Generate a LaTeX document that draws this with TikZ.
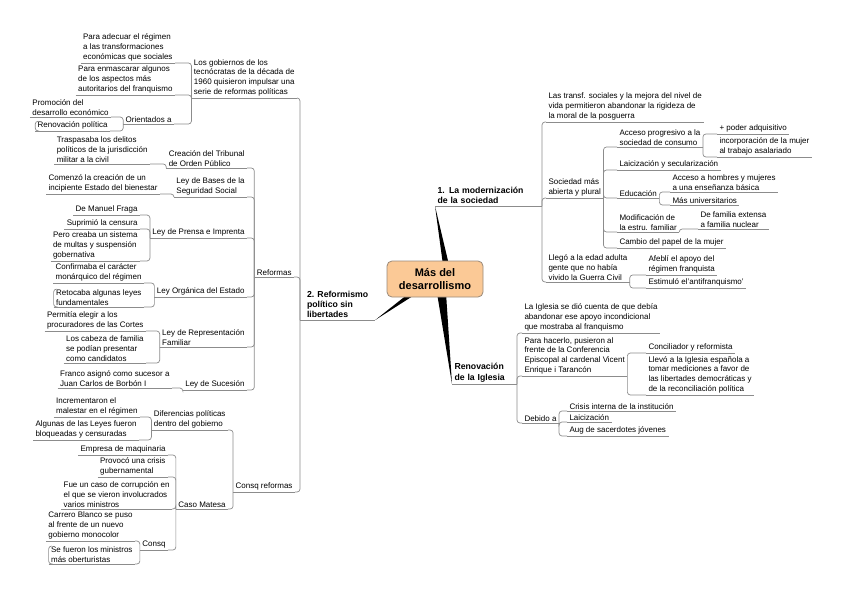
\documentclass[tikz,border=0pt]{standalone}
\usepackage{fontspec}
\setmainfont{Liberation Sans}
\usetikzlibrary{calc}
\pgfdeclarelayer{bg}
\pgfsetlayers{bg,main}
\definecolor{lineg}{HTML}{8C8C8C}
\definecolor{peach}{HTML}{FBC996}
\definecolor{peachb}{HTML}{9A8A7A}
\begin{document}
\begin{tikzpicture}[x=1pt,y=-1pt,
  every node/.style={inner sep=0pt, outer sep=0pt},
  tp/.style={align=left, inner xsep=2.5pt, inner ysep=1.6pt, font=\fontsize{8}{9.9}\selectfont},
  tl/.style={tp, anchor=south east},
  tr/.style={tp, anchor=south west},
  mainl/.style={align=left, inner xsep=2.5pt, inner ysep=2pt, font=\fontsize{8.7}{10.4}\selectfont\bfseries},
  cenbox/.style={draw=peachb, line width=0.8pt, fill=peach, rounded corners=5pt, minimum width=96pt, minimum height=36pt, align=center, font=\fontsize{11}{13}\selectfont\bfseries},
  uline/.style={draw=lineg, line width=0.7pt},
  conn/.style={draw=lineg, line width=0.7pt, rounded corners=3pt},
  branch/.style={fill=black},
]
\useasboundingbox (0,0) rectangle (848,599);

% central
\node[cenbox] (cen) at (435,279) {Más del\\desarrollismo};

% main topics
\node[mainl, anchor=south west, inner xsep=7pt] (ref) at (300,320) {2. Reformismo\\político sin\\libertades};
\node[mainl, anchor=south west, text width=102pt] (m1) at (435,206) {1. La modernización\\de la sociedad};
\node[mainl, anchor=south west, text width=60pt] (m2) at (452,384) {Renovación\\de la Iglesia};

% left side
\node[tl] (lg) at (297,98) {Los gobiernos de los\\tecnócratas de la década de\\1960 quisieron impulsar una\\serie de reformas políticas};
\node[tl] (pa) at (175,63) {Para adecuar el régimen\\a las transformaciones\\económicas que sociales};
\node[tl] (pe) at (175,95) {Para enmascarar algunos\\de los aspectos más\\autoritarios del franquismo};
\node[tl] (oa) at (174,124) {Orientados a};
\node[tl] (pd) at (111,117) {Promoción del\\desarrollo económico};
\node[tl] (rp) at (110,131) {Renovación política};
\node[tl] (refo) at (294,277) {Reformas};
\node[tl] (ctop) at (247,168) {Creación del Tribunal\\de Orden Público};
\node[tl] (tra) at (150,164) {Traspasaba los delitos\\políticos de la jurisdicción\\militar a la civil};
\node[tl] (lbs) at (247,197) {Ley de Bases de la\\Seguridad Social};
\node[tl] (com) at (160,194) {Comenzó la creación de un\\incipiente Estado del bienestar};
\node[tl] (lpi) at (247,238) {Ley de Prensa e Imprenta};
\node[tl] (dmf) at (140,215) {De Manuel Fraga};
\node[tl] (sup) at (140,229) {Suprimió la censura};
\node[tl] (pcr) at (140,261) {Pero creaba un sistema\\de multas y suspensión\\gobernativa};
\node[tl] (loe) at (247,297) {Ley Orgánica del Estado};
\node[tl] (con) at (144,283) {Confirmaba el carácter\\monárquico del régimen};
\node[tl] (ret) at (144,307) {Retocaba algunas leyes\\fundamentales};
\node[tl] (lrf) at (247,347) {Ley de Representación\\Familiar};
\node[tl] (per) at (146,331) {Permitía elegir a los\\procuradores de las Cortes};
\node[tl] (lcf) at (146,363) {Los cabeza de familia\\se podían presentar\\como candidatos};
\node[tl] (lsu) at (247,390) {Ley de Sucesión};
\node[tl] (fra) at (172,388) {Franco asignó como sucesor a\\Juan Carlos de Borbón I};
\node[tl] (cr) at (295,492) {Consq reformas};
\node[tl] (dpg) at (228,430) {Diferencias políticas\\dentro del gobierno};
\node[tl] (inc) at (140,417) {Incrementaron el\\malestar en el régimen};
\node[tl] (alg) at (139,440) {Algunas de las Leyes fueron\\bloqueadas y censuradas};
\node[tl] (cm) at (228,509) {Caso Matesa};
\node[tl] (emp) at (168,455) {Empresa de maquinaria};
\node[tl] (pro) at (168,477) {Provocó una crisis\\gubernamental};
\node[tl] (fue) at (172,509) {Fue un caso de corrupción en\\el que se vieron involucrados\\varios ministros};
\node[tl] (cq) at (168,550) {Consq};
\node[tl] (car) at (135,541) {Carrero Blanco se puso\\al frente de un nuevo\\gobierno monocolor};
\node[tl] (sef) at (135,564) {Se fueron los ministros\\más oberturistas};

% right side
\node[tr] (lts) at (546,122) {Las transf. sociales y la mejora del nivel de\\vida permitieron abandonar la rigideza de\\la moral de la posguerra};
\node[tr] (soc) at (546,198) {Sociedad más\\abierta y plural};
\node[tr] (apr) at (617,147) {Acceso progresivo a la\\sociedad de consumo};
\node[tr] (pod) at (717,134) {+ poder adquisitivo};
\node[tr] (inm) at (717,157) {incorporación de la mujer\\al trabajo asalariado};
\node[tr] (lai) at (617,170) {Laicización y secularización};
\node[tr] (edu) at (617,198) {Educación};
\node[tr] (aho) at (670,192) {Acceso a hombres y mujeres\\a una enseñanza básica};
\node[tr] (mun) at (670,205) {Más universitarios};
\node[tr] (mod) at (617,232) {Modificación de\\la estru. familiar};
\node[tr] (dfe) at (698,229) {De familia extensa\\a familia nuclear};
\node[tr] (cam) at (617,248) {Cambio del papel de la mujer};
\node[tr] (lle) at (546,282) {Llegó a la edad adulta\\gente que no había\\vivido la Guerra Civil};
\node[tr] (afe) at (646,275) {Afeblí el apoyo del\\régimen franquista};
\node[tr] (est) at (646,288) {Estimuló el'antifranquismo'};
\node[tr] (lig) at (522,333) {La Iglesia se dió cuenta de que debía\\abandonar ese apoyo incondicional\\que mostraba al franquismo};
\node[tr] (phc) at (522,376) {Para hacerlo, pusieron al\\frente de la Conferencia\\Episcopal al cardenal Vicent\\Enrique i Tarancón};
\node[tr] (cyr) at (646,353) {Conciliador y reformista};
\node[tr] (lev) at (646,395) {Llevó a la Iglesia española a\\tomar mediciones a favor de\\las libertades democráticas y\\de la reconciliación política};
\node[tr] (deb) at (522,423) {Debido a};
\node[tr] (cri) at (567,411) {Crisis interna de la institución};
\node[tr] (la2) at (567,422) {Laicización};
\node[tr] (aug) at (567,436) {Aug de sacerdotes jóvenes};

% underlines
\foreach \n in {ref,m1,m2,lg,pa,pe,oa,pd,rp,refo,ctop,tra,lbs,com,lpi,dmf,sup,pcr,loe,con,ret,lrf,per,lcf,lsu,fra,cr,dpg,inc,alg,cm,emp,pro,fue,cq,car,sef,lts,soc,apr,pod,inm,lai,edu,aho,mun,mod,dfe,cam,lle,afe,est,lig,phc,cyr,lev,deb,cri,la2,aug}
  \draw[uline] (\n.south west) -- (\n.south east);

% left connectors
\foreach \p/\c in {ref/lg,ref/refo,ref/cr,lg/pa,lg/pe,lg/oa,oa/pd,oa/rp,refo/ctop,refo/lbs,refo/lpi,refo/loe,refo/lrf,refo/lsu,ctop/tra,lbs/com,lpi/dmf,lpi/sup,lpi/pcr,loe/con,loe/ret,lrf/per,lrf/lcf,lsu/fra,cr/dpg,cr/cm,dpg/inc,dpg/alg,cm/emp,cm/pro,cm/fue,cm/cq,cq/car,cq/sef}
  \draw[conn] (\p.south west) |- (\c.south east);

% right connectors
\foreach \p/\c in {m1/lts,m1/soc,m1/lle,soc/apr,soc/lai,soc/edu,soc/mod,soc/cam,apr/pod,apr/inm,edu/aho,edu/mun,mod/dfe,lle/afe,lle/est,m2/lig,m2/phc,m2/deb,phc/cyr,phc/lev,deb/cri,deb/la2,deb/aug}
  \draw[conn] (\p.south east) |- (\c.south west);

% brackets on some left topics
\foreach \n in {rp,ret,sef}
  \draw[conn] ($(\n.north west)+(3,1)$) -- ($(\n.north west)+(0,1)$) -- (\n.south west) -- ($(\n.south west)+(4,0)$);

% background and thick branches
\begin{pgfonlayer}{bg}
\fill[white] (0,0) rectangle (848,599);
\fill[branch] (m1.south west) -- ($(cen.north)+(8,4)$) -- ($(cen.north)+(14,4)$) -- cycle;
\fill[branch] ($(cen.south)+(2,-4)$) -- ($(cen.south)+(11,-4)$) -- (m2.south west) -- cycle;
\fill[branch] ($(cen.south)+(-27,-3)$) -- ($(cen.south)+(-19,-3)$) -- (ref.south east) -- cycle;
\end{pgfonlayer}
\end{tikzpicture}
\end{document}
